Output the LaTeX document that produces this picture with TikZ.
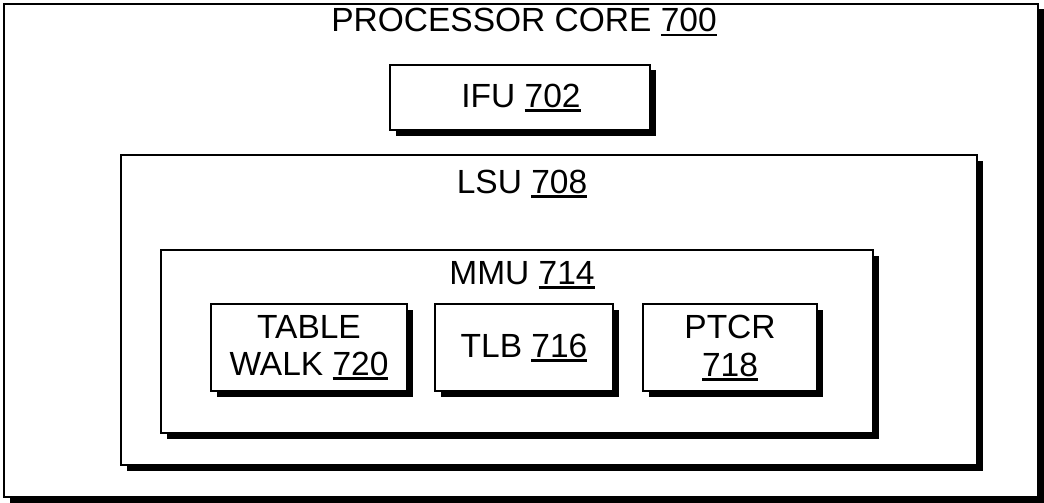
\documentclass[tikz,border=0pt]{standalone}
\usepackage{fontspec}
\setmainfont{Liberation Sans}
\usetikzlibrary{shadows}
\newcommand{\refnum}[1]{\setbox0\hbox{#1}\rlap{\rule[-4.5pt]{\wd0}{2.2pt}}\box0}
\tikzset{
  x=1pt, y=-1pt,
  blk/.style={draw=black, line width=1.8pt, fill=white, inner sep=0pt,
    drop shadow={opacity=1, shadow xshift=5.5pt, shadow yshift=-5.5pt, fill=black}},
  lbl/.style={font=\fontsize{33.5}{37.5}\selectfont, align=center, inner sep=0pt}
}
\begin{document}
\begin{tikzpicture}
\useasboundingbox (0,0) rectangle (1044,503);
% outer
\node[blk, minimum width=1034pt, minimum height=493pt] (core) at (521,250.5) {};
\node[lbl, anchor=base] (coretxt) at (524,32) {PROCESSOR CORE \refnum{700}};
% IFU
\node[blk, minimum width=260pt, minimum height=65pt] (ifu) at (520,97.5) {};
\node[lbl, anchor=base] (ifutxt) at (521,107) {IFU \refnum{702}};
% LSU
\node[blk, minimum width=856pt, minimum height=310pt] (lsu) at (549,310) {};
\node[lbl, anchor=base] (lsutxt) at (522,193) {LSU \refnum{708}};
% MMU
\node[blk, minimum width=712pt, minimum height=183pt] (mmu) at (517,341.5) {};
\node[lbl, anchor=base] (mmutxt) at (522,284) {MMU \refnum{714}};
% inner
\node[blk, minimum width=196pt, minimum height=87pt] (tw) at (309,347.5) {};
\node[lbl, anchor=base] (twtxt) at (309,338) {TABLE};
\node[lbl, anchor=base] (twtxt2) at (309,375) {WALK \refnum{720}};
\node[blk, minimum width=178pt, minimum height=87pt] (tlb) at (524,347.5) {};
\node[lbl, anchor=base] (tlbtxt) at (524,357) {TLB \refnum{716}};
\node[blk, minimum width=174pt, minimum height=87pt] (ptcr) at (730,347.5) {};
\node[lbl, anchor=base] (ptcrtxt) at (730,338) {PTCR};
\node[lbl, anchor=base] (ptcrtxt2) at (730,376) {\refnum{718}};
\end{tikzpicture}
\end{document}
